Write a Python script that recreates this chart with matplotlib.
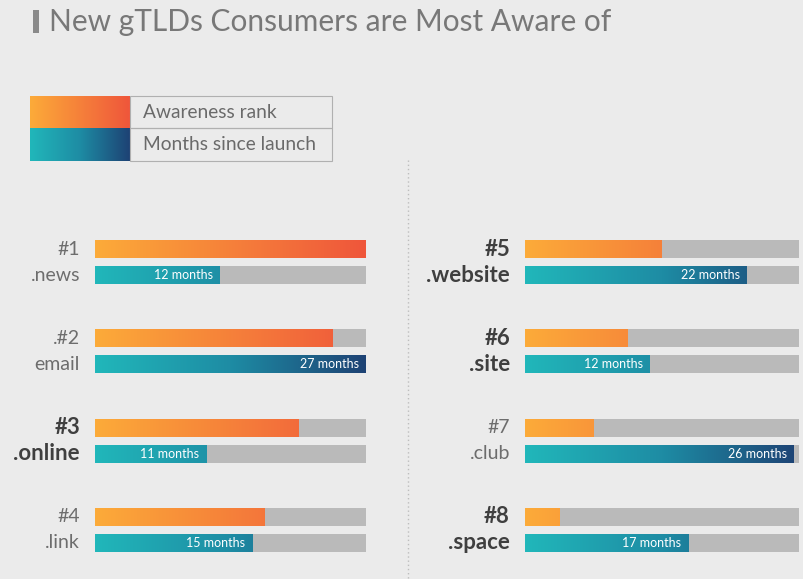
"""
New gTLDs consumers are most aware of: awareness rank vs months since launch.
"""

import matplotlib.pyplot as plt
import numpy as np
from matplotlib.colors import LinearSegmentedColormap
from matplotlib.patches import Rectangle

# ---------------------------------------------------------------------------
# Data
# ---------------------------------------------------------------------------
ranks      = ['#1', '.#2', '#3', '#4', '#5', '#6', '#7', '#8']
tlds       = ['.news', 'email', '.online', '.link',
              '.website', '.site', '.club', '.space']
awareness  = [1.0, 0.875, 0.75, 0.625, 0.5, 0.375, 0.25, 0.125]
months     = [12, 27, 11, 15, 22, 12, 26, 17]
months_bar = [0.46, 1.0, 0.41, 0.58, 0.81, 0.455, 0.98, 0.595]  # bar lengths as drawn
bold       = [False, False, True, False, True, True, False, True]

TITLE = 'New gTLDs Consumers are Most Aware of'

# ---------------------------------------------------------------------------
# Style
# ---------------------------------------------------------------------------
W, H     = 804, 579
BG       = '#ebebeb'
TRACK    = '#bababa'
ORANGE   = LinearSegmentedColormap.from_list('orange', ['#fcab39', '#ef563b'])
TEAL     = LinearSegmentedColormap.from_list('teal', ['#21b7ba', '#1e8ca4', '#1d4274'])
FONT     = ['Lato', 'DejaVu Sans']

plt.rcParams['font.family'] = FONT

fig = plt.figure(figsize=(W / 100, H / 100), dpi=100, facecolor=BG)

# full-figure axes in pixel units for the decoration
deco = fig.add_axes([0, 0, 1, 1], zorder=0)
deco.axis('off')


def gradient(ax, cmap, extent, clip=None, zorder=2):
    grad = np.linspace(0, 1, 256).reshape(1, -1)
    im = ax.imshow(grad, cmap=cmap, extent=extent, aspect='auto',
                   interpolation='bilinear', zorder=zorder)
    if clip is not None:
        im.set_clip_path(clip)
    return im


# --- title ---
deco.add_patch(Rectangle((33, 10), 6, 23, color='#8a8a8a', lw=0))
deco.text(49, 22, TITLE, fontsize=21.5, color='#787878', ha='left', va='center')

# --- legend ---
gradient(deco, ORANGE, (30, 130, 128, 96))
gradient(deco, TEAL, (30, 130, 161, 128))
for y0, h in ((96, 32), (128, 33)):
    deco.add_patch(Rectangle((130, y0), 202, h, fill=False, ec='#b0b0b0',
                             lw=0.8, zorder=3))
deco.text(143, 112, 'Awareness rank', fontsize=13.8, color='#6a6a6a', va='center')
deco.text(143, 145, 'Months since launch', fontsize=13.8, color='#6a6a6a', va='center')

# --- divider ---
deco.plot([408, 408], [160, H], color='#bdbdbd', lw=1, ls=(0, (1, 2)))
deco.set_xlim(0, W)
deco.set_ylim(H, 0)


# ---------------------------------------------------------------------------
# Panels
# ---------------------------------------------------------------------------
def px_axes(x0, x1, y0, y1):
    return fig.add_axes([x0 / W, 1 - y1 / H, (x1 - x0) / W, (y1 - y0) / H], zorder=1)


BAR_H  = 0.2016
OFFSET = 0.1455

panels = [px_axes(95, 366, 217.35, 574.65), px_axes(525, 799, 217.35, 574.65)]

for p, ax in enumerate(panels):
    for j in range(4):
        i = p * 4 + j
        y_top, y_bot = j - OFFSET, j + OFFSET

        # tracks
        ax.barh([y_top, y_bot], [1, 1], height=BAR_H, color=TRACK, lw=0, zorder=1)

        # awareness bar (gradient over full track, clipped to value)
        bar = ax.barh(y_top, awareness[i], height=BAR_H, color='none', lw=0)[0]
        gradient(ax, ORANGE, (0, 1, y_top + BAR_H / 2, y_top - BAR_H / 2), clip=bar)

        # months bar
        bar = ax.barh(y_bot, months_bar[i], height=BAR_H, color='none', lw=0)[0]
        gradient(ax, TEAL, (0, 1, y_bot + BAR_H / 2, y_bot - BAR_H / 2), clip=bar)
        ax.annotate(f'{months[i]} months', xy=(months_bar[i], y_bot),
                    xytext=(-7, 0), textcoords='offset pixels',
                    ha='right', va='center', color='white', fontsize=9, zorder=4)

        # labels
        weight = 'bold' if bold[i] else 'normal'
        color  = '#3f3f3f' if bold[i] else '#6d6d6d'
        size   = 16 if bold[i] else 14
        for txt, y in ((ranks[i], y_top), (tlds[i], y_bot)):
            ax.annotate(txt, xy=(0, y), xytext=(-15, 0), textcoords='offset pixels',
                        ha='right', va='center', fontsize=size, fontweight=weight,
                        color=color, annotation_clip=False)

    ax.set_xlim(0, 1)
    ax.set_ylim(3.5, -0.5)
    ax.axis('off')

fig.savefig('out.png', dpi=100, facecolor=BG)
